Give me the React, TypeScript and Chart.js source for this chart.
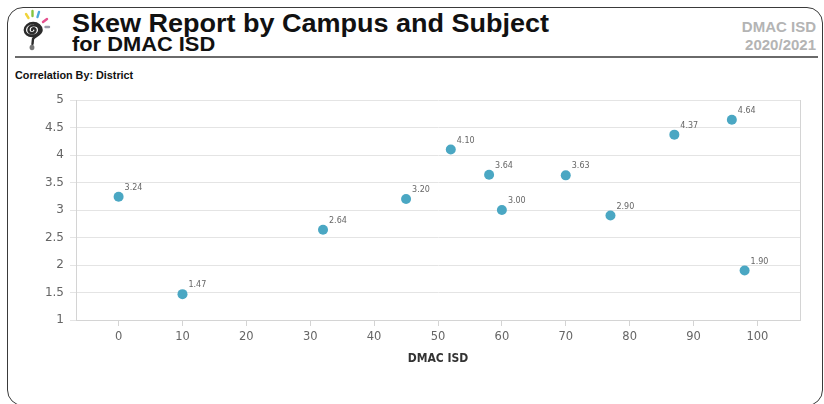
import React, { useEffect, useRef } from "react";
import { Chart, registerables } from "chart.js";

Chart.register(...registerables);

// ---- data ----
const campusScores = [0, 10, 32, 45, 52, 58, 60, 70, 77, 87, 96, 98];
const skewValues = [3.24, 1.47, 2.64, 3.2, 4.1, 3.64, 3.0, 3.63, 2.9, 4.37, 4.64, 1.9];
const xTickValues = [0, 10, 20, 30, 40, 50, 60, 70, 80, 90, 100];
const yTickValues = [1, 1.5, 2, 2.5, 3, 3.5, 4, 4.5, 5];
const xAxisTitle = "DMAC ISD";
const reportTitle = "Skew Report by Campus and Subject";
const reportSubtitle = "for DMAC ISD";
const districtName = "DMAC ISD";
const schoolYear = "2020/2021";
const correlationLabel = "Correlation By: District";

const POINT_COLOR = "#4aa7c3";
const GRID_COLOR = "#e4e4e4";
const AXIS_COLOR = "#d4d4d4";

const valueLabels = {
  id: "valueLabels",
  afterDatasetsDraw(chart: any) {
    const ctx = chart.ctx;
    const meta = chart.getDatasetMeta(0);
    ctx.save();
    ctx.font = '8px "DejaVu Sans"';
    ctx.fillStyle = "#666";
    ctx.textAlign = "left";
    ctx.textBaseline = "middle";
    meta.data.forEach((pt: any, i: number) => {
      ctx.fillText(skewValues[i].toFixed(2), pt.x + 6, pt.y - 9);
    });
    ctx.restore();
  },
};

const plotFrame = {
  id: "plotFrame",
  beforeDatasetsDraw(chart: any) {
    const { ctx, chartArea: a } = chart;
    ctx.save();
    ctx.strokeStyle = AXIS_COLOR;
    ctx.lineWidth = 1;
    ctx.beginPath();
    ctx.moveTo(Math.round(a.right) + 0.5, a.top);
    ctx.lineTo(Math.round(a.right) + 0.5, a.bottom);
    ctx.stroke();
    ctx.restore();
  },
};

function ScatterChart() {
  const ref = useRef<HTMLCanvasElement | null>(null);
  useEffect(() => {
    if (!ref.current) return;
    const chart = new Chart(ref.current, {
      type: "scatter",
      data: {
        datasets: [
          {
            data: campusScores.map((x, i) => ({ x, y: skewValues[i] })),
            backgroundColor: POINT_COLOR,
            borderColor: POINT_COLOR,
            borderWidth: 0,
            pointRadius: 5,
          },
        ],
      },
      options: {
        animation: false,
        responsive: true,
        maintainAspectRatio: false,
        layout: { padding: { left: 0, right: 24, top: 15, bottom: 0 } },
        plugins: { legend: { display: false }, tooltip: { enabled: false } },
        scales: {
          x: {
            type: "linear",
            min: -6.67,
            max: 106.67,
            afterBuildTicks: (s: any) => {
              s.ticks = xTickValues.map((v) => ({ value: v }));
            },
            afterFit: (s: any) => {
              s.height = 84;
            },
            grid: {
              drawOnChartArea: false,
              drawTicks: true,
              tickLength: 6,
              tickColor: AXIS_COLOR,
              color: AXIS_COLOR,
            },
            border: { display: true, color: AXIS_COLOR },
            ticks: {
              padding: 4,
              color: "#666",
              font: { family: "DejaVu Sans", size: 11.5 },
              callback: (v: any) => String(v),
            },
            title: {
              display: true,
              text: xAxisTitle,
              color: "#333",
              font: { family: "DejaVu Sans Condensed", size: 12, weight: "bold" },
              padding: { top: 0, bottom: 38 },
            },
          },
          y: {
            type: "linear",
            min: 1,
            max: 5,
            afterBuildTicks: (s: any) => {
              s.ticks = yTickValues.map((v) => ({ value: v }));
            },
            afterFit: (s: any) => {
              s.width = 76;
            },
            grid: {
              color: GRID_COLOR,
              tickLength: 6,
              tickColor: GRID_COLOR,
            },
            border: { display: true, color: AXIS_COLOR },
            ticks: {
              padding: 6,
              color: "#666",
              font: { family: "DejaVu Sans", size: 12 },
              callback: (v: any) => String(v),
            },
          },
        },
      },
      plugins: [plotFrame, valueLabels],
    } as any);
    return () => chart.destroy();
  }, []);
  return <canvas ref={ref} />;
}

function Logo() {
  return (
    <svg
      width={60}
      height={60}
      viewBox="0 0 60 60"
      style={{ position: "absolute", left: 0, top: 0 }}
    >
      <g strokeLinecap="round" strokeWidth={2.4} fill="none">
        <line x1={26} y1={14} x2={28.5} y2={18} stroke="#f0d43a" />
        <line x1={32.5} y1={11} x2={32.5} y2={16} stroke="#86c440" />
        <line x1={39} y1={12} x2={37.5} y2={17} stroke="#4aa8dc" />
        <line x1={47} y1={19} x2={43} y2={22} stroke="#e5508e" />
        <line x1={49} y1={27} x2={45.5} y2={27} stroke="#9a9aa8" />
      </g>
      <path
        d="M32 30 A1.8 1.8 0 0 1 35.6 30 A3.6 3.2 0 0 1 28.4 30 A5.4 4.6 0 0 1 39.2 30 A7.2 6 0 0 1 24.8 30 A8.4 7 0 0 1 41.6 30 C41.6 35 34 36 33 39 L32.5 44"
        stroke="#2b2b2b"
        strokeWidth={2.4}
        fill="none"
        strokeLinecap="round"
      />
      <ellipse cx={32} cy={47.5} rx={2.4} ry={2.8} fill="#777" />
    </svg>
  );
}

export default function App() {
  const base: React.CSSProperties = {
    position: "absolute",
    fontFamily: '"Liberation Sans", Arial, sans-serif',
    fontWeight: "bold",
    whiteSpace: "nowrap",
  };
  return (
    <div
      style={{
        position: "fixed",
        left: 0,
        top: 0,
        width: 824,
        height: 404,
        background: "#fff",
        overflow: "hidden",
      }}
    >
      <div
        style={{
          position: "absolute",
          left: 7,
          top: 7,
          width: 816,
          height: 399,
          border: "1.5px solid #3a3a3a",
          borderRadius: 16,
          boxSizing: "border-box",
        }}
      />
      <Logo />
      <div
        style={{
          ...base,
          left: 72,
          top: 11,
          fontSize: 25,
          lineHeight: "25px",
          color: "#111",
          transform: "scaleX(1.08)",
          transformOrigin: "left top",
        }}
      >
        {reportTitle}
      </div>
      <div
        style={{
          ...base,
          left: 72,
          top: 35,
          fontSize: 19.5,
          lineHeight: "19.5px",
          color: "#111",
          transform: "scaleX(1.12)",
          transformOrigin: "left top",
        }}
      >
        {reportSubtitle}
      </div>
      <div
        style={{
          ...base,
          right: 824 - 816,
          top: 19,
          fontSize: 15,
          lineHeight: "15px",
          color: "#b4b4b4",
          textAlign: "right",
        }}
      >
        {districtName}
      </div>
      <div
        style={{
          ...base,
          right: 824 - 816,
          top: 37,
          fontSize: 15,
          lineHeight: "15px",
          color: "#b4b4b4",
          textAlign: "right",
        }}
      >
        {schoolYear}
      </div>
      <div
        style={{
          position: "absolute",
          left: 15,
          top: 56,
          width: 803,
          height: 2,
          background: "#6a6a6a",
        }}
      />
      <div
        style={{
          ...base,
          left: 15,
          top: 71,
          fontSize: 10,
          lineHeight: "10px",
          color: "#111",
          transform: "scaleX(1.08)",
          transformOrigin: "left top",
        }}
      >
        {correlationLabel}
      </div>
      <div style={{ position: "absolute", left: 0, top: 85, width: 824, height: 319 }}>
        <ScatterChart />
      </div>
    </div>
  );
}
